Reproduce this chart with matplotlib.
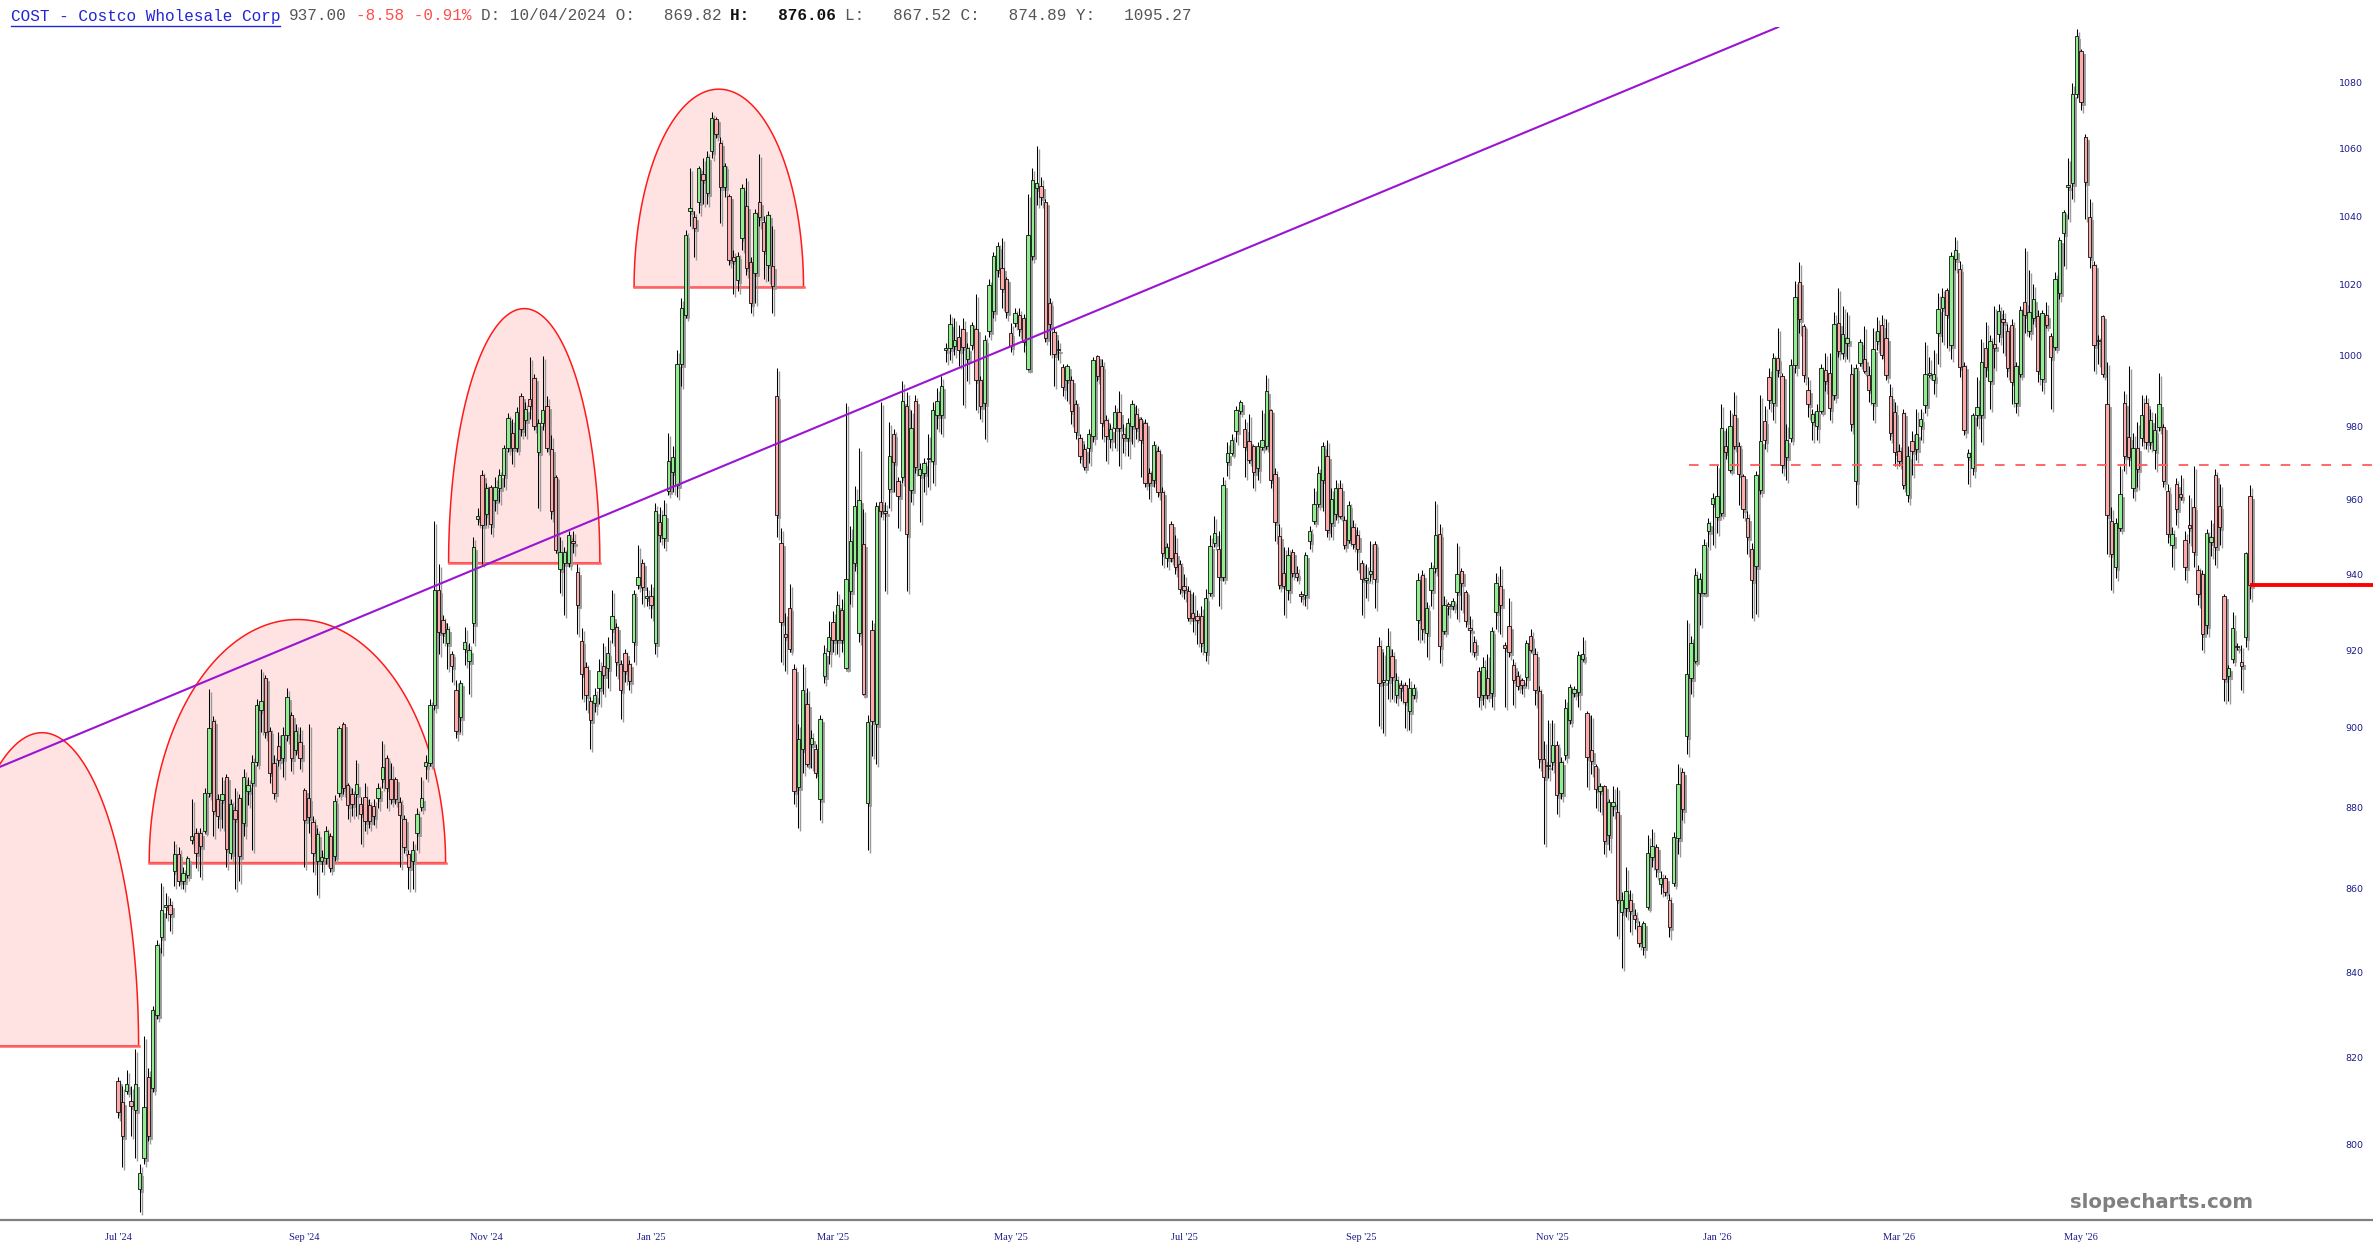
import numpy as np
import matplotlib.pyplot as plt
from matplotlib.patches import Polygon
from matplotlib.lines import Line2D
from matplotlib.ticker import NullLocator, NullFormatter
from matplotlib.transforms import offset_copy

# daily candles (oldest first)
opens = [
    814.5, 809.8, 812.2, 810, 808, 790, 797, 815.5, 813, 830,
    848.4, 855.5, 856, 864.3, 868.4, 862, 863.5, 872, 873.7, 873.7,
    874.2, 883.7, 901.7, 882, 881.8, 887.6, 868.8, 879.5, 882.3, 876.1,
    884, 886, 891.5, 904.6, 912.8, 899.3, 891.1, 895.4, 892.5, 898.2,
    903.2, 894.3, 896.4, 884.4, 882.4, 876.4, 866.7, 866.7, 867.5, 873,
    868.1, 883.7, 901, 885.5, 883.4, 883.4, 880.9, 882.7, 880.6, 880.3,
    882.3, 887, 892.5, 887, 887, 881.3, 877.1, 868.4, 866.7, 873.7,
    880.2, 890.4, 891.1, 905.9, 935.9, 927.8, 921.9, 918.9, 909.6, 902.8,
    920.2, 917.2, 927, 954.6, 966.7, 956, 963.3, 959.8, 963.2, 966.7,
    974, 978.3, 974.1, 988.4, 981.7, 987.6, 993.5, 972.9, 981, 985.6,
    973.7, 966.2, 941.4, 942.9, 942.9, 948.8, 940.6, 922.4, 915.7, 906.8,
    906.4, 910.3, 915.9, 915.4, 925.6, 926, 916.3, 919.2, 916.3, 922.2,
    937, 942.9, 933.7, 934.2, 921.9, 953.8, 949.6, 962.4, 967.5, 963.9,
    997.4, 1011.5, 1041.5, 1039.8, 1044.2, 1052.5, 1046.7, 1059.4, 1068.9, 1061.6,
    1048.6, 1046, 1028, 1021.3, 1033.7, 1042.9, 1026.6, 1023.4, 1044.3, 1038.4,
    1025.9, 1025.5, 988.6, 948.4, 924.2, 930.9, 915.1, 885, 894.7, 906,
    895.9, 894.7, 882, 913.2, 919.8, 927.4, 922.6, 930.6, 915.4, 935.4,
    942.9, 924.5, 948, 881.1, 925.2, 901, 959.4, 957, 962.9, 977.9,
    964.9, 966, 985.8, 962.6, 987.2, 966.7, 967.2, 971, 970.6, 983.1,
    983.1, 1001.5, 1002, 1002.5, 1005, 1007.5, 998.8, 1002.7, 1007.5, 993,
    986.4, 1006.7, 1012.6, 1024.2, 1024.8, 1021.7, 1006.1, 1009.2, 1011.3, 1010.4,
    996.1, 1028.4, 1048.2, 1048.9, 1044.1, 1014.7, 1006.4, 1001.3, 996.6, 993,
    992.9, 986.2, 976.7, 973.9, 974.2, 977.3, 999.7, 997, 981.7, 976.6,
    979.6, 984, 978, 976.9, 980.2, 983.6, 982, 981, 967.3, 965.3,
    973.3, 962, 944.2, 953.4, 945.7, 942.7, 936.7, 935.4, 929.8, 929,
    929, 919.6, 935, 948.2, 946.6, 939.3, 970.1, 972.8, 978.9, 984.2,
    979.4, 975.9, 974.5, 968.7, 974.3, 974.5, 984.5, 967, 950.2, 940.4,
    935.9, 946, 940.4, 934.6, 934.5, 948.8, 954.1, 958.9, 965.3, 971.8,
    953.6, 956.2, 963.2, 954.5, 949.2, 952.7, 950.5, 942.9, 938.4, 940,
    947.9, 921.1, 911.8, 912.4, 918.5, 908.4, 910.9, 910.9, 904.4, 908.4,
    928, 939.8, 924.6, 935.9, 941.5, 950.7, 925.1, 932, 931.5, 935.3,
    940.8, 935.3, 925.8, 922.1, 914.5, 908.4, 912.9, 909, 930.1, 936.8,
    921.4, 926.2, 916.1, 913.4, 912.4, 913.1, 923.8, 918.9, 909.4, 892.1,
    890.7, 891.5, 895.8, 883.6, 893.1, 902.1, 908.9, 909.3, 917.7, 903.7,
    894.3, 890.4, 884.1, 885.4, 873.2, 880.4, 879, 854.4, 855.4, 857.3,
    853.7, 851, 846.1, 855.7, 867.9, 870.3, 861.2, 862.6, 857.2, 861.4,
    872.5, 888.8, 898, 912.9, 917.2, 935, 935, 951.5, 958.7, 955.3,
    956.4, 974.7, 968.1, 983.1, 974.7, 966.4, 955.1, 946.6, 942.2, 962.7,
    981.6, 993.7, 986.5, 999.3, 994.1, 971.5, 976.7, 997.2, 1020.7, 1008.2,
    990.2, 981.3, 980.1, 984.4, 995.8, 994.9, 988.7, 1009.2, 1000.6, 1003.4,
    994.6, 965.1, 997.8, 998.8, 994.3, 986.5, 1004.1, 1008.6, 1004.8, 988.5,
    984.1, 973.3, 983.8, 961.2, 976.1, 973.8, 980.1, 986.1, 994.3, 993.1,
    1006.3, 1013.4, 1018.5, 1002.8, 1027.5, 1024.7, 996.9, 971.5, 968.6, 983.1,
    983.1, 1001.9, 992.6, 1003.2, 1006, 1010.1, 1006.9, 1008.6, 986.5, 994.7,
    1015.2, 1006.7, 1010.4, 1011.2, 993.3, 1011.4, 1005.3, 1002.2, 1017.6, 1035.2,
    1048.7, 1049.7, 1076.5, 1089.6, 1063.5, 1039.9, 1025.8, 1004.3, 1011.2, 986.2,
    954.3, 941.8, 952.2, 986.5, 977, 963.1, 974.1, 976.9, 986.5, 975.7,
    973.6, 980, 979.8, 962.3, 947.8, 964.1, 961.4, 949, 953, 958,
    941.2, 940.1, 926.5, 948.6, 966.8, 958.3, 934.2, 913.2, 917.8, 920.7,
    917, 923.4, 960.9,
]
highs = [
    815.5, 813.5, 817, 813.5, 822, 795.7, 825, 817.5, 832, 847.7,
    861.5, 859, 857.8, 871.6, 870.2, 865.4, 868.1, 882, 875, 875,
    884.8, 910, 903, 883.4, 887.6, 888.3, 882, 884.8, 883.4, 889.7,
    887.6, 893.2, 907.5, 915, 913.5, 900.3, 893.2, 898.9, 900.3, 910.3,
    904, 901, 900.3, 884.8, 901, 877.8, 875, 869.5, 875.4, 873.7,
    883.1, 900.6, 901.4, 886.2, 884.8, 891.8, 882.7, 886.2, 882, 882,
    886.2, 896.8, 893.2, 891.1, 887.6, 882.7, 878.1, 869.5, 871.6, 879.8,
    887.6, 893.2, 907.5, 954.1, 942.6, 929.3, 927, 919.7, 912.3, 912.3,
    926, 921.9, 950, 957.6, 968, 964.5, 964, 966, 968.3, 974.8,
    983.8, 982.2, 985.3, 989.2, 986.8, 999.5, 994.7, 982.2, 999.7, 988.4,
    977.6, 966.7, 950, 947.2, 951.5, 951.5, 942.6, 925.7, 916.9, 908,
    910.3, 917.6, 921.9, 923.3, 935.9, 927, 917.5, 920.4, 917.5, 935.9,
    947.8, 944.1, 936.6, 937.4, 959.1, 958.1, 960, 978.3, 974.5, 1001.3,
    1016.3, 1035.9, 1054.4, 1041.5, 1055, 1057.3, 1059.4, 1071.1, 1069.7, 1063.4,
    1055.8, 1046.5, 1030.1, 1029.5, 1049.4, 1051.3, 1028, 1042.2, 1058.4, 1040.1,
    1041.5, 1037.2, 996.3, 952.2, 929.6, 937.4, 916.4, 900.9, 916.4, 910.2,
    899.6, 895.9, 903.3, 921.4, 927.7, 930.2, 935.4, 933.5, 986.6, 952.8,
    963.8, 974, 957.5, 903.3, 927.8, 959.4, 986.7, 959.4, 981.3, 979.3,
    966, 992.7, 989.5, 984.6, 988.9, 970, 971.3, 977.9, 986.7, 990.8,
    994, 1003.4, 1011.7, 1010.6, 1008.5, 1010.6, 1003.4, 1009.3, 1017.5, 994.1,
    1005.7, 1021.7, 1029.4, 1032.3, 1033.7, 1022.4, 1009.2, 1013.3, 1013.3, 1011.7,
    1046.5, 1054.4, 1060.9, 1051.5, 1045.1, 1016.1, 1007.8, 1004.3, 997.6, 997.6,
    994, 987.4, 977.9, 975.3, 979.3, 999.5, 1000.1, 999, 983.1, 980.6,
    986, 990, 980.6, 982.4, 987.4, 986, 982.7, 982, 968.7, 976,
    974.6, 963.3, 948.3, 954.1, 950.3, 943.7, 939.9, 936.7, 935.3, 930.5,
    931.5, 936, 950.5, 955.5, 951.6, 966, 975.6, 978, 985.6, 987.3,
    982, 983.5, 975, 975.6, 984.5, 994.4, 985, 968.7, 953.3, 947.1,
    947.1, 946.6, 942.1, 935.4, 946, 952.8, 963, 969.2, 975.6, 976.2,
    963, 965.3, 965.3, 955.6, 959.6, 954.5, 952.7, 943.8, 942.6, 948.8,
    948.8, 923.3, 919.4, 925.9, 920.2, 914, 912.4, 911.8, 912.9, 911.3,
    940.4, 941, 932.6, 943.2, 959.5, 953.3, 934.3, 932.6, 933.7, 948.3,
    941.5, 935.9, 928.8, 923.8, 915.6, 918.3, 918.9, 926, 940.4, 942.1,
    922.2, 933.7, 917.8, 914.5, 912.9, 922.7, 925.5, 920.5, 910.7, 896.8,
    902.1, 902.1, 896.8, 892.6, 907.5, 911.3, 910.7, 919.9, 923.3, 904.4,
    903.3, 890.9, 886.2, 885.7, 882, 885.4, 885.2, 859.3, 865.4, 859.8,
    855.2, 852.2, 852.2, 873.1, 874.7, 871, 864.4, 863.4, 858.8, 874,
    891, 889.9, 928, 923.8, 941.5, 940.4, 949.4, 955.1, 961.8, 969.3,
    986.2, 979.7, 984.5, 989.5, 975.6, 967, 956.8, 948.4, 967.8, 988.7,
    985.8, 996.2, 1000.6, 1007.6, 995, 980.7, 998.8, 1021.2, 1026.6, 1008.9,
    993.7, 985, 986.3, 997.4, 1000.6, 1000.6, 1012.1, 1019.1, 1014, 1012.1,
    997.4, 997.4, 1004.4, 1008.2, 996.9, 1007.6, 1010.8, 1011.4, 1010.2, 991.8,
    986.9, 975.1, 985, 974.5, 978.9, 985, 985, 1003.7, 999.4, 1001.3,
    1017.8, 1019.1, 1019.1, 1029.4, 1034, 1026.9, 998.1, 973.8, 983.8, 993.7,
    1004.4, 1009.5, 1005.7, 1014, 1014.6, 1012.7, 1008.9, 1010.2, 998.1, 1014,
    1030.7, 1024.3, 1020.4, 1012.7, 1012.7, 1015.2, 1006.3, 1023.6, 1034, 1041.8,
    1057.1, 1079.9, 1096.4, 1090.2, 1064.4, 1045.1, 1026.9, 1005.7, 1011.4, 998.1,
    958.1, 955, 969, 990, 996.9, 978.2, 981.3, 988.7, 988.7, 985,
    983.8, 994.9, 980.7, 964.1, 952.6, 965.9, 966.6, 951.4, 961.1, 969,
    942.4, 941.2, 952, 954.4, 968.4, 964.1, 934.8, 916.1, 930.1, 921.9,
    921.3, 946, 963.9,
]
lows = [
    806, 795, 811.5, 802, 797, 785, 795.7, 800.8, 812, 829,
    844.5, 853, 849.8, 860.6, 860.6, 860, 862.6, 870.9, 865, 863,
    873.7, 882.6, 873, 875, 875, 865.4, 867.4, 859.9, 862, 873,
    880.6, 869.5, 890.4, 898.9, 897.5, 886.2, 882, 890.4, 887.6, 896.8,
    889, 893.2, 889.7, 865.4, 873.7, 864, 858.5, 864, 866, 864,
    866.7, 882.6, 883.4, 877.1, 877.8, 877.8, 870.9, 874.3, 875, 875.7,
    880, 884.8, 880, 880.9, 880.9, 865.4, 868.8, 859.9, 859.9, 869.5,
    879.2, 887, 890.4, 904.6, 918.9, 921.9, 915, 911.8, 897.5, 898.9,
    916.1, 908.8, 921.9, 953, 942.6, 953, 950.8, 956.9, 959.3, 963.3,
    972.9, 969.8, 972.9, 977.4, 977.4, 982.2, 979.1, 957.6, 979.1, 972.9,
    954.6, 945.5, 935.1, 929.2, 941.8, 945.5, 924.1, 907.5, 904.6, 894.7,
    904, 906, 908.8, 910.3, 921.9, 913.2, 902.4, 911.8, 909.6, 916.8,
    936, 932.2, 931.5, 928.5, 918.9, 948.5, 947, 961.3, 962, 960.7,
    991.3, 1010.5, 1037.2, 1028, 1040.8, 1043.6, 1043.6, 1057.3, 1063.1, 1038,
    1045.8, 1025.9, 1017.5, 1018.2, 1030.1, 1023, 1011.9, 1014.7, 1037.2, 1021.7,
    1021, 1011.9, 950, 916.9, 914.5, 919.5, 880.8, 874.8, 888.6, 890.4,
    889.8, 887.4, 877, 911.4, 916.4, 919.5, 918.9, 919.5, 915.1, 932.2,
    940.9, 922, 908.3, 869.6, 892.8, 891, 955.3, 935.4, 957.8, 962,
    952.2, 964.6, 935.4, 959.4, 967.2, 953.9, 962, 963.3, 964.6, 979.3,
    977.9, 998.1, 998.7, 1000.1, 996.8, 986, 992.7, 1001.5, 984.7, 982.1,
    976.6, 1005, 1010.6, 1022.4, 1013.3, 1010.6, 1000.8, 1008, 1005.3, 1000.8,
    995.7, 1027.3, 1043.4, 1043.4, 1003.6, 1000, 991.3, 998.7, 988.6, 987.2,
    980.6, 976.6, 970, 968, 970, 975.6, 992.7, 976.6, 970.6, 974,
    974, 969, 972.6, 972, 975.3, 976.6, 966, 963.3, 960.1, 963.3,
    960.7, 942.4, 941.8, 943.1, 939.9, 934.8, 933.5, 927.7, 924.8, 921.5,
    919.4, 917.2, 934.3, 947.1, 931.5, 938.2, 966.4, 972.2, 975.6, 983.6,
    966, 969.9, 963, 965.3, 973.4, 973.9, 963, 948.8, 936, 929.3,
    933.1, 939.3, 938.2, 932.6, 931.5, 946.6, 953.3, 957.9, 956.8, 949.9,
    949.9, 954.5, 955.1, 946.6, 948.2, 946.6, 941, 929.3, 933.7, 938.2,
    930.9, 900.4, 898.8, 907.5, 907.5, 906.4, 906.9, 900, 899.5, 907.5,
    922.7, 922.7, 918.3, 931.5, 940.4, 916.7, 924.3, 929.3, 930.4, 928.2,
    930.4, 926, 919.4, 918.3, 905.4, 905.9, 907.5, 905.4, 925.5, 924.3,
    905.4, 918.3, 905.9, 909.6, 908.6, 910.7, 919.4, 905.9, 889.9, 871,
    887.3, 889.4, 878.3, 882, 892, 901, 908, 905.4, 917.2, 885.2,
    888.3, 879.9, 878.8, 868.4, 869.5, 877.8, 848.7, 841.1, 853.2, 849.6,
    850.2, 846.1, 844.1, 855.2, 865.4, 862.8, 858.8, 858.3, 848.4, 860.8,
    868.5, 876.8, 893.4, 908.6, 916.7, 926.5, 934.8, 947.1, 947.7, 951,
    955.5, 971, 967.5, 973.9, 958.4, 955.1, 945.4, 928.3, 929.5, 961.6,
    973.8, 985, 981.9, 993.7, 967.2, 965.3, 975.7, 995, 1006.3, 992.5,
    982.6, 976.3, 976.3, 983.8, 990, 981.9, 987.5, 999.4, 998.8, 998.8,
    978.9, 958.6, 996.9, 995, 986.9, 981.9, 1001.3, 998.8, 993.1, 976.3,
    969, 969, 962.9, 959.2, 966.6, 970.8, 976.3, 983.8, 993.7, 989,
    997.4, 1003.7, 1001.9, 998.8, 1024.3, 993.7, 977.6, 964.1, 966.6, 980.1,
    975.7, 993.7, 985, 996.2, 1003.7, 1000.6, 993.7, 986.3, 983.8, 993.7,
    1006.3, 1005.1, 1008.9, 992.4, 990, 1007.6, 985, 1001.3, 1016, 1025.6,
    1039.3, 1045.1, 1075.2, 1071.8, 1039.3, 1024.9, 995.6, 997.4, 993.7, 945.4,
    935.9, 938.9, 951.5, 967.8, 969, 960.5, 963.5, 974.5, 973.8, 973.8,
    968.4, 978.9, 963.5, 948.4, 941.8, 953.2, 959.8, 938.3, 948.4, 941.8,
    931.8, 920.1, 924.2, 944.8, 942.4, 947.8, 906.9, 906.9, 916.7, 920.1,
    909.7, 920.7, 933.5,
]
closes = [
    807.5, 802, 813.8, 808.8, 813.8, 793.6, 808.5, 802, 831, 846.4,
    854.8, 856, 854, 868.4, 862, 863.8, 867.5, 872.9, 868.8, 870.5,
    883.7, 900, 879.2, 877.8, 883.4, 869.8, 880.9, 877.1, 868.1, 887.6,
    885.5, 891.5, 905.9, 906.8, 898.9, 888.6, 883.7, 891.8, 898.2, 908,
    892.5, 899.3, 892.5, 876.8, 877.7, 868.8, 873.4, 867.7, 874.3, 865.1,
    881.7, 900, 884.8, 880.6, 880.9, 885.8, 878.5, 876.7, 876.7, 877.8,
    884.8, 890.1, 884.8, 882, 882, 878.1, 870.2, 865.4, 869.5, 878.5,
    882.3, 891.5, 905.9, 935.9, 924.8, 924.5, 925.6, 915.8, 899.3, 911.5,
    922.2, 920, 947.3, 955.6, 953, 963.2, 953.3, 963.3, 966.7, 974,
    982.5, 974.1, 984.1, 979.4, 985, 985.6, 980.2, 981, 984.5, 974,
    956.8, 946.4, 946, 946, 950.3, 948.2, 931.9, 913.7, 908.4, 901.9,
    908.4, 914.7, 913.5, 919.2, 928.8, 916.8, 909.6, 914.7, 912.1, 934.8,
    939.3, 936.6, 934.2, 931.8, 956.8, 950.3, 955.8, 970.6, 971.5, 997.6,
    1013.3, 1034.4, 1042.5, 1036.6, 1054.4, 1050.6, 1057.5, 1069.2, 1064.3, 1048.6,
    1055, 1027.3, 1027, 1028.3, 1048.2, 1024.8, 1014.7, 1041, 1039.8, 1029.7,
    1040.4, 1019.6, 955.8, 927.4, 923.5, 920.2, 884, 897.1, 909.6, 891,
    897.4, 888.6, 902.3, 919.2, 923.3, 922.6, 931.8, 922.6, 938.6, 948.8,
    958.2, 960, 908.8, 901.5, 901.8, 958.3, 957, 956.4, 971.9, 970.2,
    961, 987.2, 950.7, 979.7, 968.9, 968.2, 970, 971.3, 984.6, 987.2,
    991.3, 1002, 1008.9, 1004.3, 1001.3, 1002.2, 1001.9, 1008.6, 993.1, 985.7,
    1004.3, 1019.9, 1028.3, 1031.2, 1018.9, 1012.2, 1002.5, 1012, 1007.4, 1003.6,
    1034.4, 1050.8, 1049.8, 1045.7, 1004.7, 1008.9, 1000.2, 1001.8, 991.1, 996.9,
    984.3, 978.6, 971.9, 968.9, 978, 998.5, 994, 980.9, 977.3, 979.3,
    984, 979.6, 976.9, 981.1, 986.3, 979.6, 976.3, 964.4, 964.6, 974.9,
    962, 945.7, 947.3, 944.4, 941.8, 936.1, 935.8, 928.4, 928.4, 927.9,
    921.8, 933.7, 947.4, 951, 939.3, 963.9, 972.8, 976.2, 984.5, 986.8,
    974.3, 970.8, 967.6, 974.7, 976.2, 989.9, 965.3, 953.9, 937.1, 936.8,
    945.1, 940.4, 939.1, 934.3, 945.1, 951.4, 958.7, 967.3, 974.7, 951.8,
    960.2, 963.2, 955.6, 947.7, 958.4, 948.1, 946.6, 938.7, 939, 940.8,
    938.7, 911.6, 912.4, 921.1, 913.1, 912.4, 910.2, 906.6, 910.2, 910.2,
    938.4, 925.5, 930.9, 941.7, 950.5, 921.1, 931.8, 931.5, 932.9, 940,
    937.6, 927.6, 925.2, 919.6, 908, 915.6, 908.4, 924.9, 937.6, 931.8,
    920.5, 919.4, 912.4, 910.7, 910.9, 921.8, 920, 909.6, 892.1, 887.5,
    890.3, 895.8, 883, 891.3, 905.2, 910.6, 909.9, 918.8, 919, 892.6,
    891.7, 884.6, 885.4, 871.8, 881.4, 881.4, 857.3, 857.3, 859.5, 854.7,
    852.7, 846.9, 851.7, 868.7, 870.6, 864.8, 862.6, 859.3, 850.7, 872.6,
    885.9, 879.6, 913.8, 921.8, 939.8, 938.7, 947.7, 953.7, 960.5, 960.9,
    979.7, 973.1, 980.1, 974.7, 967, 957.5, 950, 938.3, 966.6, 976.1,
    976.4, 987.5, 999.3, 995.8, 969.4, 976.3, 997.1, 1016.6, 1010.2, 994.3,
    986.3, 983.4, 984.2, 996.4, 992.7, 985.1, 1008.9, 1001, 1005.9, 1004.8,
    980.7, 996.2, 1003.7, 995.6, 990.2, 1001.6, 1006.7, 1000, 994.3, 978.2,
    972.9, 970.5, 963.9, 972, 973.3, 977.8, 982, 994.7, 994.9, 994.7,
    1013.1, 1016.6, 1011.4, 1028.5, 1030, 996.5, 979.1, 972.7, 983.1, 985.3,
    998.1, 996.5, 1004.1, 1001.9, 1012.4, 1009.4, 996.2, 992.4, 996.9, 1012.7,
    1011.4, 1012.1, 1015.9, 995.6, 1011.8, 1008.6, 999.4, 1021.7, 1032.9, 1041.2,
    1049.1, 1076.5, 1094.4, 1074.1, 1050.1, 1028.1, 1002.8, 1003.9, 994.6, 955.9,
    945.4, 953.7, 961.4, 972, 971.5, 974.1, 968.4, 983.2, 975.7, 981.9,
    979, 986.3, 965.1, 950.8, 950.8, 957.4, 960.7, 941.8, 952.2, 946,
    934.8, 924.2, 951, 949.8, 947.2, 952.6, 912.6, 915.5, 925.7, 921.1,
    915.9, 945.6, 937.0,
]

# x axis: candle index of the first bar of each labelled month
tick_pos = [0, 43, 85, 123, 165, 206, 246, 287, 331, 369, 411, 453]
tick_labels = ["Jul '24", "Sep '24", "Nov '24", "Jan '25", "Mar '25", "May '25",
               "Jul '25", "Sep '25", "Nov '25", "Jan '26", "Mar '26", "May '26"]
price_ticks = [800, 820, 840, 860, 880, 900, 920, 940, 960, 980,
               1000, 1020, 1040, 1060, 1080]

# drawn annotations: domes (candle index span, base price, top price)
dome_left = [-39.8, 7.2, 76.3, 119.1]
dome_right = [4.75, 75.6, 111.2, 158.2]
dome_base = [822.7, 866.4, 943.0, 1019.3]
dome_top = [898.8, 928.0, 1013.2, 1078.0]

trend_x = [0, 300]
trend_y = [902.6, 1051.6]
resist_start, resist_level = 362.5, 969.4
last_price = 937.0

W, H = 2373, 1260
fig = plt.figure(figsize=(W / 100, H / 100), dpi=100)
ax = fig.add_axes([0, 40 / H, 1, (1220 - 27) / H])
ax.set_yscale("log")
xmin, xmax = -27.23, 520.4
ax.set_xlim(xmin, xmax)
ax.set_ylim(783.2, 1097.1)

o = np.array(opens)
h = np.array(highs)
l = np.array(lows)
c = np.array(closes)
x = np.arange(len(c))
up = c >= o
lo = np.minimum(o, c)
hi = np.maximum(o, c)
ht = np.maximum(hi - lo, 0.35)
fill = np.where(up, "#90ee90", "#ffaaaa")
bw = 0.8

# grey drop shadow behind every candle
shadow = offset_copy(ax.transData, fig=fig, x=2, y=-3, units="dots")
ax.vlines(x, l, h, colors="#9a9a9a", lw=1.0, transform=shadow, zorder=2)
ax.bar(x, ht, bottom=lo, width=bw, color="#9a9a9a", edgecolor="#9a9a9a",
       lw=0.6, transform=shadow, zorder=2)

ax.vlines(x, l, h, colors="black", lw=0.75, zorder=3)
ax.bar(x, ht, bottom=lo, width=bw, color=fill, edgecolor="#111111", lw=0.6, zorder=4)

# semicircular domes, built in axes space so they stay round on screen
to_ax = ax.transData + ax.transAxes.inverted()
t = np.linspace(0, np.pi, 240)
for xl_, xr_, pb, pt in zip(dome_left, dome_right, dome_base, dome_top):
    xl, yb = to_ax.transform((xl_, pb))
    xr, _ = to_ax.transform((xr_, pb))
    _, yt = to_ax.transform(((xl_ + xr_) / 2, pt))
    cx, a, b = (xl + xr) / 2, (xr - xl) / 2, yt - yb
    pts = np.column_stack([cx + a * np.cos(t), yb + b * np.sin(t)])
    ax.add_patch(Polygon(pts, closed=True, transform=ax.transAxes,
                         facecolor="#ffe3e3", edgecolor="#ff1a1a", lw=1.1, zorder=1))
    ax.plot([xl, xr], [yb, yb], transform=ax.transAxes, color="#ff6464",
            lw=1.8, zorder=1.5)

ax.axline((trend_x[0], trend_y[0]), (trend_x[1], trend_y[1]),
          color="#9a14d4", lw=1.5, zorder=6)
ax.hlines(resist_level, resist_start, xmax, colors="#ff5a5a", lw=1.3,
          linestyles=(0, (5.3, 6.0)), zorder=6)
ax.hlines(last_price, len(c) - 1, xmax, colors="#ff0000", lw=2.8, zorder=6)

for s in ("top", "left", "right"):
    ax.spines[s].set_visible(False)
ax.spines["bottom"].set_color("#808080")
ax.spines["bottom"].set_linewidth(1.6)

ax.set_xticks(tick_pos, tick_labels)
ax.tick_params(axis="x", length=0, pad=9, labelsize=7.5, labelcolor="#1c1c8c")
for lbl in ax.get_xticklabels():
    lbl.set_fontfamily("Liberation Serif")

ax.yaxis.tick_right()
ax.yaxis.set_minor_locator(NullLocator())
ax.yaxis.set_minor_formatter(NullFormatter())
ax.set_yticks(price_ticks, [str(v) for v in price_ticks])
ax.tick_params(axis="y", length=0, pad=-7.2, labelsize=6.8, labelcolor="#1c1c8c")
for lbl in ax.get_yticklabels():
    lbl.set_horizontalalignment("right")

# header line in a monospace font
cw = 9.585
hy = 1 - 16 / H
header = [
    (0, "COST - Costco Wholesale Corp", "#2424d8", "normal"),
    (29, "937.00", "#555555", "normal"),
    (36, "-8.58 -0.91%", "#ff4d4d", "normal"),
    (49, "D: 10/04/2024 O:   869.82", "#555555", "normal"),
    (75, "H:   876.06", "#111111", "bold"),
    (87, "L:   867.52 C:   874.89 Y:   1095.27", "#555555", "normal"),
]
for pos, txt, col, wt in header:
    fig.text((11.2 + pos * cw) / W, hy, txt, ha="left", va="center",
             family="Liberation Mono", fontsize=11.5, color=col, fontweight=wt)
fig.add_artist(Line2D([11.2 / W, (11.2 + 28 * cw) / W], [1 - 26 / H, 1 - 26 / H],
                      color="#2424d8", lw=1.0))

fig.text(2253 / W, 1 - 1203 / H, "slopecharts.com", ha="right", va="center",
         fontsize=14.2, fontweight="bold", color="#808080", family="DejaVu Sans")

fig.savefig("out.png", dpi=100)
